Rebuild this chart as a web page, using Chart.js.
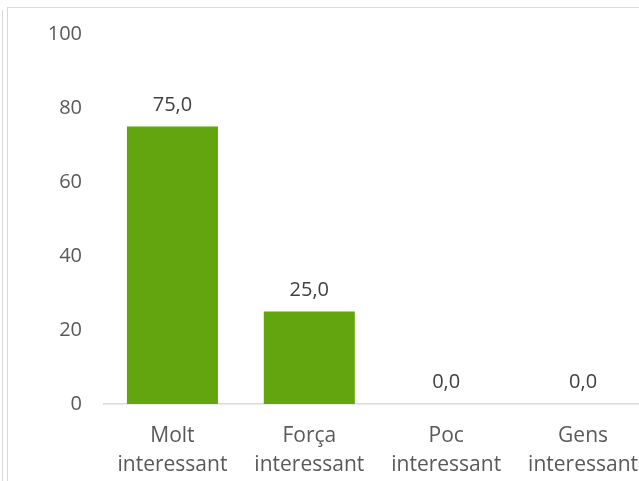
<!DOCTYPE html>
<html>
<head>
<meta charset="utf-8">
<script src="https://cdn.jsdelivr.net/npm/chart.js@4"></script>
<style>
html,body{margin:0;padding:0;background:#fff;overflow:hidden;}
#wrap{position:relative;width:639px;height:481px;overflow:hidden;}
#box{position:absolute;left:0;top:0;width:656px;height:481px;}
.ln{position:absolute;background:#d9d9d9;}
</style>
</head>
<body>
<div id="wrap">
<div id="box"><canvas id="c" width="656" height="481"></canvas></div>
<div class="ln" style="left:2px;top:10px;width:1px;height:471px;"></div>
<div class="ln" style="left:7px;top:7px;width:1px;height:474px;"></div>
<div class="ln" style="left:7px;top:7px;width:632px;height:1px;"></div>
</div>
<script>
const categories = [["Molt","interessant"],["Força","interessant"],["Poc","interessant"],["Gens","interessant"]];
const values = [75.0, 25.0, 0.0, 0.0];
const yTicks = [0, 20, 40, 60, 80, 100];

const FONT = "'Open Sans', sans-serif";

const labelPlugin = {
  id: 'valueLabels',
  afterDatasetsDraw(chart) {
    const ctx = chart.ctx;
    const meta = chart.getDatasetMeta(0);
    ctx.save();
    ctx.font = "20px " + FONT;
    ctx.fillStyle = "#404040";
    ctx.textAlign = "center";
    ctx.textBaseline = "middle";
    meta.data.forEach((bar, i) => {
      const v = chart.data.datasets[0].data[i];
      ctx.fillText(v.toFixed(1).replace('.', ','), bar.x, bar.y - 21.5);
    });
    ctx.restore();
  }
};

new Chart(document.getElementById('c'), {
  type: 'bar',
  data: {
    labels: categories,
    datasets: [{
      data: values,
      backgroundColor: '#63A50E',
      borderWidth: 0,
      barPercentage: 0.665,
      categoryPercentage: 1.0
    }]
  },
  options: {
    responsive: false,
    animation: false,
    devicePixelRatio: 1,
    layout: { padding: { left: 0, right: 0, top: 33, bottom: 0 } },
    plugins: { legend: { display: false }, tooltip: { enabled: false } },
    scales: {
      x: {
        grid: { display: false, drawTicks: false },
        border: { display: true, color: '#d9d9d9', width: 1.5 },
        ticks: {
          color: '#595959',
          font: { family: FONT, size: 21, lineHeight: 1.38 },
          padding: 18,
          maxRotation: 0,
          autoSkip: false
        },
        afterFit(s) { s.height = 77; }
      },
      y: {
        min: 0, max: 100,
        grid: { display: false, drawTicks: false },
        border: { display: false },
        afterBuildTicks(s) { s.ticks = yTicks.map(v => ({ value: v })); },
        ticks: {
          color: '#595959',
          font: { family: FONT, size: 20 },
          padding: 22
        },
        afterFit(s) { s.width = 104; }
      }
    }
  },
  plugins: [labelPlugin]
});
</script>
</body>
</html>
